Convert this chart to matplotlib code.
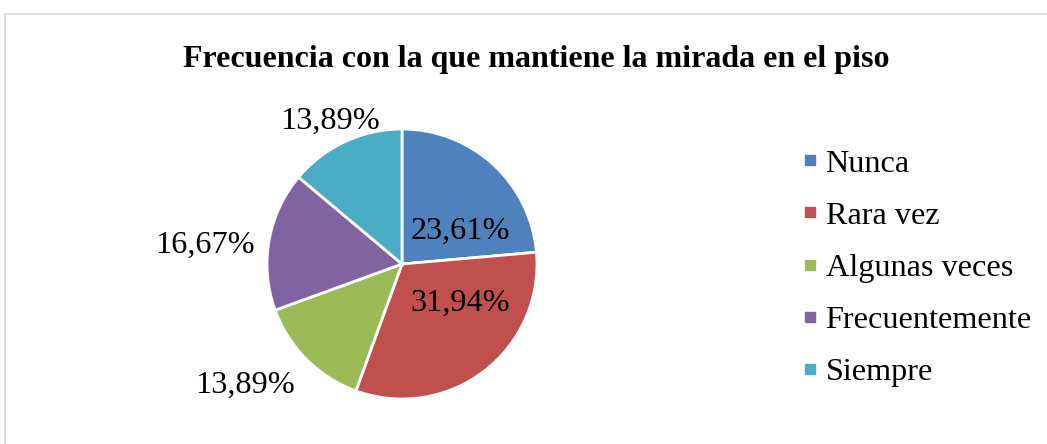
import matplotlib
matplotlib.use("Agg")
import matplotlib.pyplot as plt
from matplotlib.lines import Line2D

# datos del grafico
categorias = ["Nunca", "Rara vez", "Algunas veces", "Frecuentemente", "Siempre"]
porcentajes = [23.61, 31.94, 13.89, 16.67, 13.89]
etiquetas = ["23,61%", "31,94%", "13,89%", "16,67%", "13,89%"]
colores = ["#4F81BD", "#C0504D", "#9BBB59", "#8064A2", "#4BACC6"]

# posicion de las etiquetas (en radios del pastel)
pos_etiquetas = [(0.43, 0.24), (0.43, -0.29), (-1.16, -0.90), (-1.46, 0.14), (-0.53, 1.06)]

plt.rcParams['font.family'] = ['Liberation Serif', 'DejaVu Serif']

W, H = 1047, 444
fig = plt.figure(figsize=(W / 100, H / 100), dpi=100)

# pastel: centro (402, 264) px, radio 135 px
R = 135
lim = 1.6
side = 2 * lim * R
cx, cy = 402, H - 264
ax = fig.add_axes([(cx - side / 2) / W, (cy - side / 2) / H, side / W, side / H])
wedges, _ = ax.pie(porcentajes, colors=colores, startangle=90, counterclock=False,
                   wedgeprops=dict(edgecolor="white", linewidth=2))
ax.set_xlim(-lim, lim)
ax.set_ylim(-lim, lim)
ax.set_aspect("equal")
ax.axis("off")

for txt, (px, py) in zip(etiquetas, pos_etiquetas):
    ax.text(px, py, txt, ha="center", va="center", fontsize=23.2, color="black")

fig.text(536 / W, 1 - 59 / H, "Frecuencia con la que mantiene la mirada en el piso",
         ha="center", va="center", fontsize=23, fontweight="bold")

handles = [Line2D([], [], marker="s", linestyle="none", markersize=7.5,
                  markerfacecolor=c, markeredgecolor=c) for c in colores]
fig.legend(handles, categorias, loc="center left", bbox_to_anchor=(803 / W, 1 - 268 / H),
           frameon=False, fontsize=23.2, handlelength=0.45, handletextpad=0.25,
           labelspacing=0.70, borderpad=0, borderaxespad=0)

# borde del area del grafico
fig.add_artist(Line2D([5 / W, 1], [1 - 14 / H, 1 - 14 / H], color="#d9d9d9", lw=1.2))
fig.add_artist(Line2D([5 / W, 5 / W], [0, 1 - 14 / H], color="#d9d9d9", lw=1.2))

fig.savefig("out.png", dpi=100, facecolor="white")
